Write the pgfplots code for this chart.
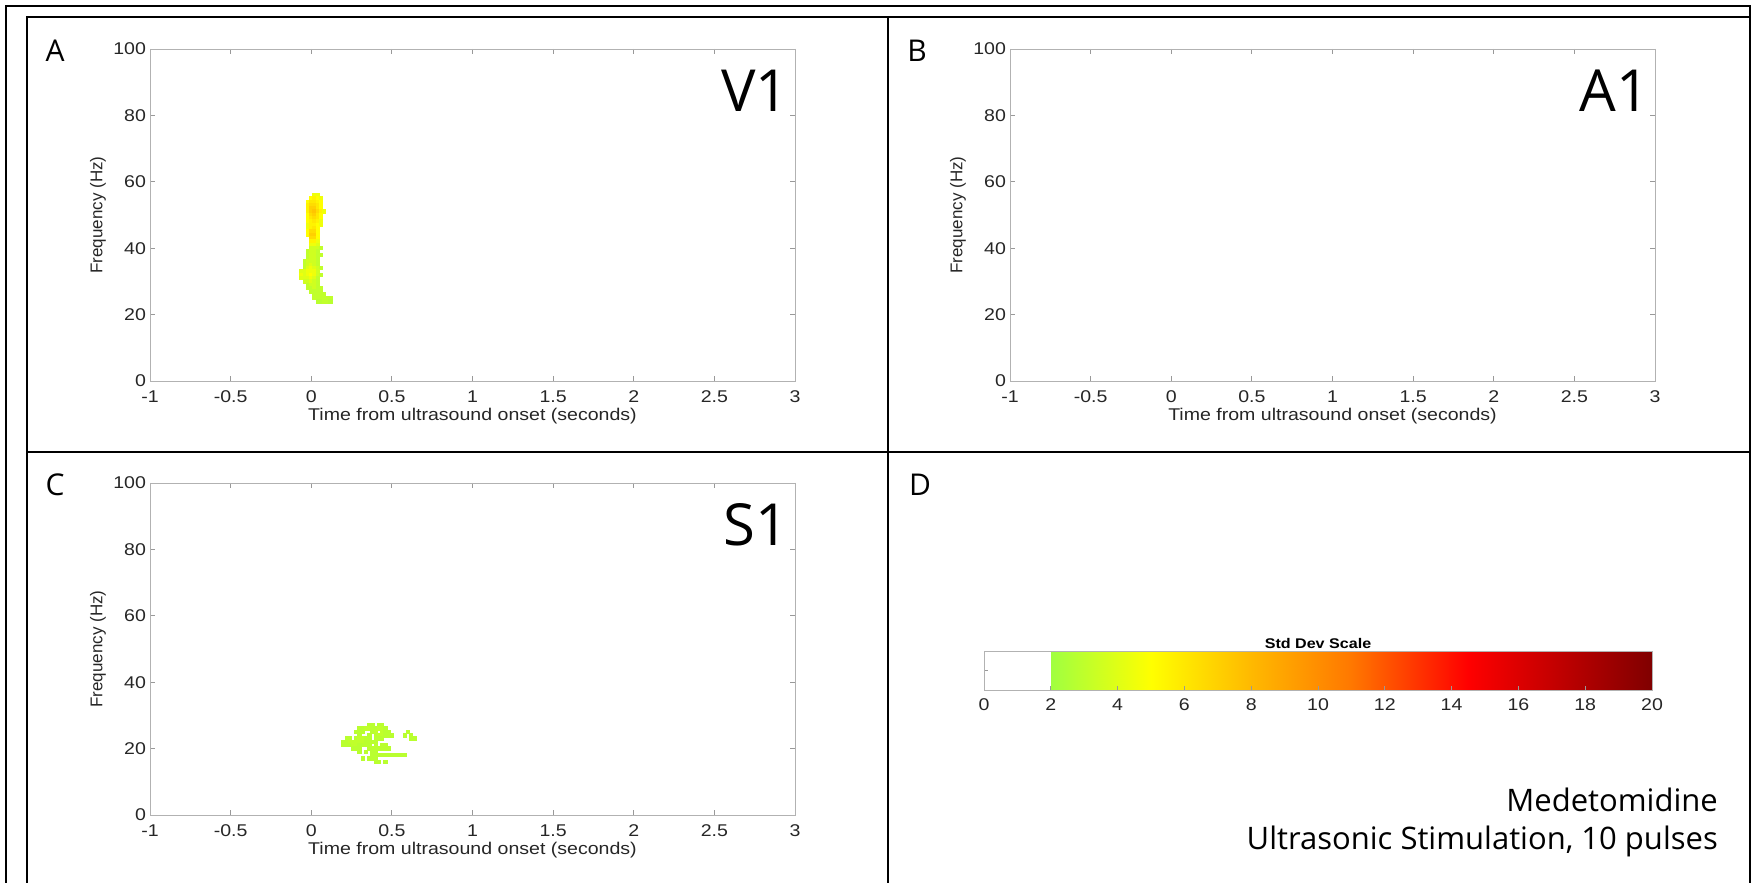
\documentclass[border=0pt]{standalone}
\usepackage{fontspec}
\setmainfont{Liberation Sans}
\newfontfamily\segoe{Open Sans}
\usepackage{pgfplots}
\usepackage{pgfplotstable}
\pgfplotsset{compat=1.18}

\pgfplotstableread{
t f v
0.02 56 4.5
0.04 56 4.5
0.00 55 5
0.02 55 5.5
0.04 55 5
0.06 55 4.5
-0.02 54 5
0.00 54 6
0.02 54 6
0.04 54 5.5
0.06 54 5
-0.02 53 5.5
0.00 53 6.5
0.02 53 6.5
0.04 53 6
0.06 53 5
-0.02 52 5.5
0.00 52 7
0.02 52 7
0.04 52 6
0.06 52 5
-0.02 51 5.5
0.00 51 7
0.02 51 7.5
0.04 51 6.5
0.06 51 5.5
0.08 51 4.5
-0.02 50 5
0.00 50 6.5
0.02 50 7
0.04 50 6
0.06 50 5
-0.02 49 5
0.00 49 6
0.02 49 6.5
0.04 49 6
0.06 49 5
-0.02 48 5
0.00 48 5.5
0.02 48 6
0.04 48 5.5
0.06 48 4.5
-0.02 47 4.5
0.00 47 5.5
0.02 47 5.5
0.04 47 5
0.06 47 4.5
-0.02 46 4.5
0.00 46 5.5
0.02 46 6
0.04 46 5
-0.02 45 5
0.00 45 6.5
0.02 45 6.5
0.04 45 5
-0.02 44 5
0.00 44 7
0.02 44 7
0.04 44 5
0.00 43 6.5
0.02 43 6.5
0.04 43 5
0.00 42 5.5
0.02 42 5.5
0.04 42 4.5
0.00 41 4.5
0.02 41 4.5
0.04 41 4
0.00 40 3.5
0.02 40 3.5
0.04 40 3.5
0.06 40 3
-0.02 39 3
0.00 39 3.5
0.02 39 3.5
0.04 39 3
-0.02 38 3
0.00 38 3.5
0.02 38 3.5
0.04 38 3
0.06 38 3
-0.02 37 3
0.00 37 3.5
0.02 37 3.5
0.04 37 3
-0.04 36 3
-0.02 36 3.5
0.00 36 3.5
0.02 36 3.5
0.04 36 3
-0.04 35 3
-0.02 35 3.5
0.00 35 4
0.02 35 3.5
0.04 35 3
-0.04 34 3
-0.02 34 4
0.00 34 4.5
0.02 34 4
0.04 34 3.5
0.06 34 3
-0.06 33 4
-0.04 33 4
-0.02 33 4.5
0.00 33 4.5
0.02 33 4.5
0.04 33 3.5
-0.06 32 4.5
-0.04 32 4
-0.02 32 4.5
0.00 32 5
0.02 32 4.5
0.04 32 3.5
0.06 32 3
-0.06 31 4
-0.04 31 4
-0.02 31 4
0.00 31 4.5
0.02 31 4
0.04 31 3
-0.04 30 3.5
-0.02 30 3.5
0.00 30 4
0.02 30 3.5
0.04 30 3
-0.02 29 3
0.00 29 3.5
0.02 29 3.5
0.04 29 3
-0.02 28 3
0.00 28 3
0.02 28 3.5
0.04 28 3
0.06 28 3
0.00 27 3
0.02 27 3
0.04 27 3
0.06 27 3
0.02 26 3
0.04 26 3
0.06 26 3
0.08 26 3
0.02 25 3
0.04 25 3
0.06 25 3
0.08 25 3
0.10 25 3
0.12 25 3
0.04 24 2.8
0.06 24 2.8
0.08 24 3
0.10 24 3
0.12 24 2.8
}\vone

\pgfplotstableread{
t f v
0.36 27 2.8
0.38 27 2.8
0.42 27 2.8
0.44 27 2.8
0.30 26 2.8
0.32 26 2.8
0.34 26 3
0.36 26 3
0.38 26 2.8
0.40 26 2.8
0.42 26 3
0.44 26 3
0.46 26 2.8
0.28 25 2.8
0.30 25 2.8
0.32 25 2.8
0.38 25 2.8
0.40 25 3
0.44 25 3
0.46 25 2.8
0.48 25 2.8
0.60 25 2.8
0.30 24 2.8
0.36 24 2.8
0.40 24 2.8
0.42 24 3
0.44 24 3
0.46 24 2.8
0.48 24 2.8
0.50 24 2.8
0.58 24 2.8
0.62 24 2.8
0.22 23 2.8
0.24 23 2.8
0.28 23 2.8
0.30 23 3
0.32 23 3
0.34 23 2.8
0.36 23 2.8
0.40 23 2.8
0.42 23 2.8
0.44 23 2.8
0.62 23 2.8
0.64 23 2.8
0.20 22 2.8
0.22 22 2.8
0.24 22 3
0.26 22 3
0.28 22 3
0.30 22 3
0.32 22 3
0.34 22 2.8
0.36 22 2.8
0.38 22 2.8
0.40 22 2.8
0.20 21 2.8
0.22 21 2.8
0.24 21 2.8
0.26 21 3
0.28 21 3
0.30 21 2.8
0.32 21 2.8
0.34 21 2.8
0.36 21 2.8
0.40 21 2.8
0.44 21 2.8
0.46 21 2.8
0.26 20 2.8
0.28 20 2.8
0.30 20 2.8
0.36 20 2.8
0.38 20 2.8
0.40 20 2.8
0.42 20 2.8
0.44 20 2.8
0.46 20 2.8
0.48 20 2.8
0.30 19 2.8
0.34 19 2.8
0.38 19 2.8
0.40 19 2.8
0.38 18 2.8
0.40 18 2.8
0.42 18 2.8
0.44 18 2.8
0.46 18 2.8
0.48 18 2.8
0.50 18 2.8
0.52 18 2.8
0.54 18 2.8
0.56 18 2.8
0.58 18 2.8
0.32 17 2.8
0.36 17 2.8
0.38 17 2.8
0.40 17 2.8
0.40 16 2.8
0.42 16 2.8
0.46 16 2.8
}\sone

\pgfplotstableread{
x y
2 0
5 0
8 0
11 0
14.5 0
20 0

2 1
5 1
8 1
11 1
14.5 1
20 1
}\cbar

\pgfplotsset{
  sdmap/.style={colormap={sd}{rgb255(2pt)=(160,255,64) rgb255(5pt)=(255,255,0) rgb255(8pt)=(255,185,0) rgb255(11pt)=(255,120,0) rgb255(14.5pt)=(255,0,0) rgb255(20pt)=(128,0,0)}},
  matlab/.style={
    scale only axis, width=645pt, height=332pt,
    xmin=-1, xmax=3, ymin=0, ymax=100,
    xtick={-1,-0.5,0,0.5,1,1.5,2,2.5,3},
    ytick={0,20,40,60,80,100},
    tick align=inside, major tick length=5pt,
    axis line style={black!30, line width=0.8pt},
    tick style={black!40, line width=0.8pt},
    /pgf/number format/assume math mode=true,
    ticklabel style={font=\fontsize{17}{19}\selectfont, text=black!85, xscale=1.15},
    xticklabel style={yshift=-6pt},
    xlabel style={font=\fontsize{17}{19}\selectfont, text=black!85, xscale=1.15, yshift=1pt},
    ylabel style={font=\fontsize{17}{19}\selectfont, text=black!85},
    xlabel={Time from ultrasound onset (seconds)},
    ylabel={Frequency (Hz)},
    point meta min=2, point meta max=20, sdmap,
  },
  blob/.style={scatter, only marks, mark=square*, mark size=1.7pt,
    scatter/use mapped color={draw=mapped color, fill=mapped color},
    mark options={line width=0pt}, point meta=explicit},
}

\begin{document}
\begin{tikzpicture}
\path[use as bounding box] (0pt,0pt) rectangle (1762pt,883pt);

% panel A
\begin{axis}[matlab, at={(150pt,502pt)}, anchor=south west]
\addplot[blob] table[x=t, y=f, meta=v] {\vone};
\end{axis}

% panel B
\begin{axis}[matlab, at={(1010pt,502pt)}, anchor=south west]
\end{axis}

% panel C
\begin{axis}[matlab, at={(150pt,68pt)}, anchor=south west]
\addplot[blob] table[x=t, y=f, meta=v] {\sone};
\end{axis}

% panel D colour bar
\begin{axis}[scale only axis, at={(984pt,193pt)}, anchor=south west,
  width=668pt, height=39pt,
  xmin=0, xmax=20, ymin=0, ymax=1,
  xtick={0,2,4,6,8,10,12,14,16,18,20},
  ytick={0.5}, yticklabels={},
  xtick pos=bottom, ytick pos=left,
  tick align=inside, major tick length=4pt,
  axis line style={black!30, line width=0.8pt},
  tick style={black!40, line width=0.8pt},
  /pgf/number format/assume math mode=true,
  ticklabel style={font=\fontsize{17}{19}\selectfont, text=black!85, xscale=1.15},
  xticklabel style={yshift=-5pt},
  title={Std Dev Scale},
  title style={font=\bfseries\fontsize{14}{16}\selectfont, text=black, xscale=1.15, yshift=-7pt},
  point meta min=2, point meta max=20, sdmap,
  axis on top]
\addplot[surf, shader=interp, mesh/cols=6, point meta=x] table[x=x, y=y] {\cbar};
\end{axis}

% panel letters and region labels
\node[font=\segoe\fontsize{30}{34}\selectfont] at (55pt,832pt) {A};
\node[font=\segoe\fontsize{30}{34}\selectfont] at (917pt,832pt) {B};
\node[font=\segoe\fontsize{30}{34}\selectfont] at (55pt,398pt) {C};
\node[font=\segoe\fontsize{30}{34}\selectfont] at (920pt,398pt) {D};
\node[font=\segoe\fontsize{58}{64}\selectfont, anchor=base east, inner sep=0pt] at (789pt,771pt) {V1};
\node[font=\segoe\fontsize{58}{64}\selectfont, anchor=base east, inner sep=0pt] at (1650pt,771pt) {A1};
\node[font=\segoe\fontsize{58}{64}\selectfont, anchor=base east, inner sep=0pt] at (789pt,337pt) {S1};
\node[font=\segoe\fontsize{31}{36}\selectfont, anchor=base east, inner sep=0pt] at (1718pt,71pt) {Medetomidine};
\node[font=\segoe\fontsize{31}{36}\selectfont, anchor=base east, inner sep=0pt] at (1718pt,33pt) {Ultrasonic Stimulation, 10 pulses};

% table borders
\draw[line width=2pt] (6pt,0pt) -- (6pt,877pt) -- (1750pt,877pt) -- (1750pt,0pt);
\draw[line width=1.6pt] (27pt,0pt) -- (27pt,866pt) -- (1750pt,866pt);
\draw[line width=1.6pt] (888pt,0pt) -- (888pt,866pt);
\draw[line width=1.6pt] (27pt,431pt) -- (1750pt,431pt);
\end{tikzpicture}
\end{document}
